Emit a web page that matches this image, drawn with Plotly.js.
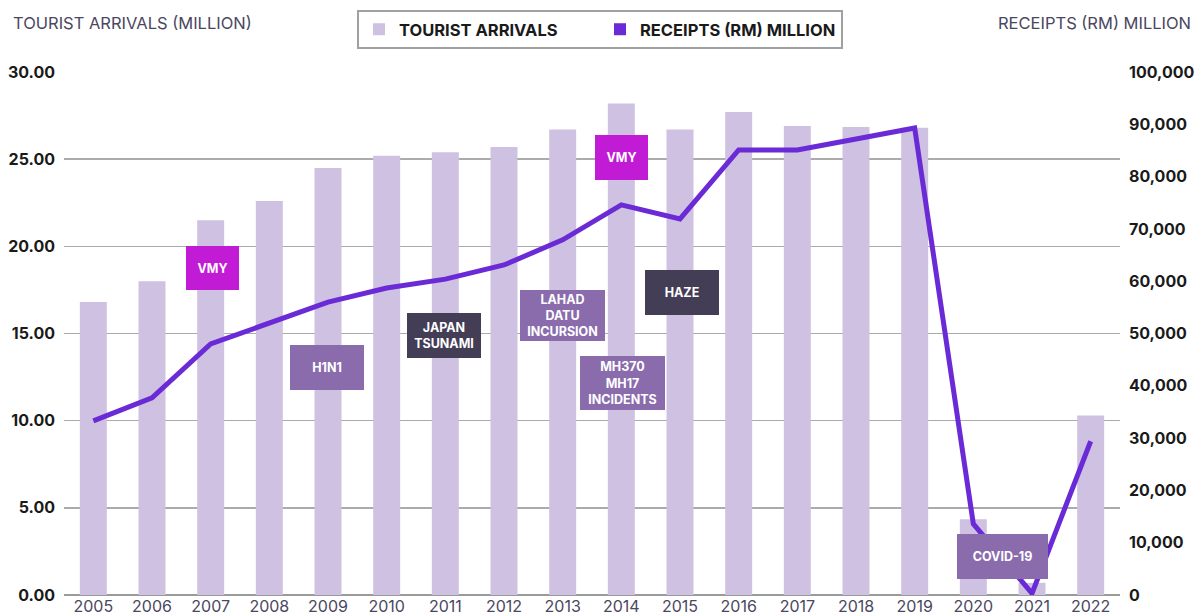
<!DOCTYPE html>
<html>
<head>
<meta charset="utf-8">
<script src="https://cdn.plot.ly/plotly-3.0.1.min.js"></script>
<style>
  html, body { margin: 0; padding: 0; background: #ffffff; }
  #chart { width: 1195px; height: 616px; }
</style>
</head>
<body>
<div id="chart"></div>
<script>
const years = ["2005","2006","2007","2008","2009","2010","2011","2012","2013","2014","2015","2016","2017","2018","2019","2020","2021","2022"];
const arrivals = [16.8, 18.0, 21.5, 22.6, 24.5, 25.2, 25.4, 25.7, 26.7, 28.2, 26.7, 27.7, 26.9, 26.85, 26.8, 4.35, 0.7, 10.3];
const receipts = [33300, 37700, 48000, 52000, 56000, 58700, 60400, 63100, 67900, 74600, 71900, 85100, 85100, 87200, 89300, 13600, 300, 29400];
const leftTicks = [0, 5, 10, 15, 20, 25, 30];
const rightTicks = [0, 10000, 20000, 30000, 40000, 50000, 60000, 70000, 80000, 90000, 100000];
const events = [
  {text: "VMY", x: 0.1406, y: 0.6252, w: 53, h: 44, color: "#c21bd6"},
  {text: "H1N1", x: 0.2491, y: 0.4350, w: 74, h: 45, color: "#8a6cad"},
  {text: "JAPAN<br>TSUNAMI", x: 0.3598, y: 0.4962, w: 74, h: 45, color: "#433d56"},
  {text: "LAHAD<br>DATU<br>INCURSION", x: 0.4721, y: 0.5344, w: 85, h: 51, color: "#8a6cad"},
  {text: "MH370<br>MH17<br>INCIDENTS", x: 0.5289, y: 0.4054, w: 85, h: 54, color: "#8a6cad"},
  {text: "VMY", x: 0.5279, y: 0.8365, w: 53, h: 45, color: "#c21bd6"},
  {text: "HAZE", x: 0.5852, y: 0.5780, w: 74, h: 45, color: "#433d56"},
  {text: "COVID-19", x: 0.8887, y: 0.0736, w: 91, h: 45, color: "#8a6cad"}
];

const FONT = "Inter, 'Open Sans', sans-serif";

const traces = [
  {
    type: "bar", name: "TOURIST ARRIVALS", x: years, y: arrivals,
    marker: {color: "#cfc1e1"}, yaxis: "y", hoverinfo: "x+y"
  },
  {
    type: "scatter", mode: "lines", name: "RECEIPTS (RM) MILLION", x: years, y: receipts,
    line: {color: "#6a2bd6", width: 5}, yaxis: "y2", cliponaxis: false, showlegend: false
  },
  {
    type: "bar", name: "RECEIPTS (RM) MILLION", x: [years[0]], y: [null],
    marker: {color: "#6a2bd6"}, yaxis: "y2", hoverinfo: "skip"
  }
];

const annotations = events.map(e => ({
  xref: "paper", yref: "paper", x: e.x, y: e.y, xanchor: "center", yanchor: "middle",
  text: "<b>" + e.text + "</b>", showarrow: false, bgcolor: e.color,
  width: e.w, height: e.h, borderpad: 0, borderwidth: 0,
  font: {family: FONT, size: 12.5, color: "#ffffff"}, align: "center"
}));
annotations.push({
  xref: "paper", yref: "paper", x: -0.0502, y: 1.0937, xanchor: "left", yanchor: "middle",
  text: "TOURIST ARRIVALS (MILLION)", showarrow: false,
  font: {family: FONT, size: 16.5, color: "#4a4760"}
});
annotations.push({
  xref: "paper", yref: "paper", x: 1.0691, y: 1.0937, xanchor: "right", yanchor: "middle",
  text: "RECEIPTS (RM) MILLION", showarrow: false,
  font: {family: FONT, size: 16.5, color: "#4a4760"}
});

const layout = {
  width: 1195, height: 616,
  margin: {l: 64, r: 75, t: 72, b: 21},
  paper_bgcolor: "#ffffff", plot_bgcolor: "#ffffff",
  barmode: "overlay", bargap: 0.54,
  font: {family: FONT, color: "#1a1a1a"},
  xaxis: {
    type: "category", tickfont: {family: FONT, size: 16, color: "#4a4760"},
    showgrid: false, zeroline: false, showline: false, ticks: "", range: [-0.5, 17.5],
    fixedrange: true
  },
  yaxis: {
    range: [0, 30], tickvals: leftTicks, tickformat: ".2f",
    tickfont: {family: FONT, size: 16, color: "#1a1a1a", weight: "bold"},
    showgrid: true, gridcolor: "#ababab", gridwidth: 1.5,
    zeroline: true, zerolinecolor: "#9a9a9a", zerolinewidth: 2,
    ticks: "", ticklabelstandoff: 8, showline: false
  },
  yaxis2: {
    overlaying: "y", side: "right", range: [0, 100000], tickvals: rightTicks,
    tickformat: ",d",
    tickfont: {family: FONT, size: 16, color: "#1a1a1a", weight: "bold"},
    showgrid: false, zeroline: false, ticks: "", ticklabelstandoff: 8, showline: false
  },
  legend: {
    orientation: "h", xref: "container", yref: "container",
    x: 600/1195, y: 1 - 10/616, xanchor: "center", yanchor: "top",
    bordercolor: "#a0a0a0", borderwidth: 2, bgcolor: "#ffffff",
    font: {family: FONT, size: 16.5, color: "#1a1a1a", weight: "bold"},
    itemwidth: 30, traceorder: "normal", entrywidth: 196
  },
  annotations: annotations,
  showlegend: true
};

Plotly.newPlot("chart", traces, layout, {displayModeBar: false, staticPlot: true});
</script>
</body>
</html>
